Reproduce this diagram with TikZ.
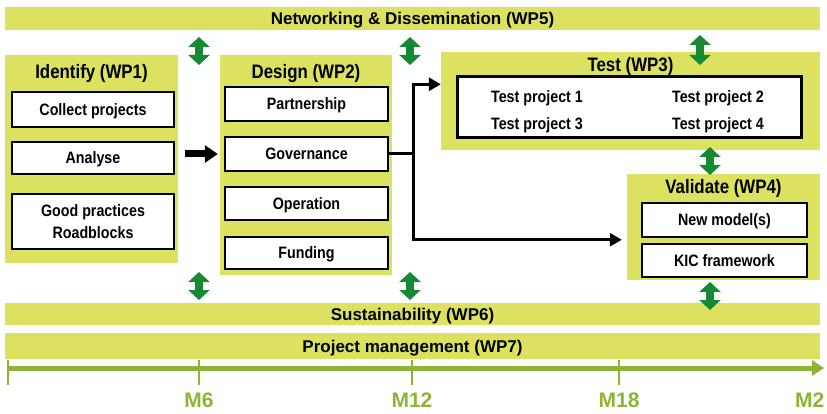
\documentclass[tikz,border=0pt]{standalone}
\usepackage{fontspec}
\setmainfont{Liberation Sans}
\newfontfamily\narrowsf[FakeStretch=0.865]{Liberation Sans}
\usetikzlibrary{arrows.meta,calc}
\definecolor{wpyellow}{RGB}{221,225,96}
\definecolor{wpgreen}{RGB}{22,138,50}
\definecolor{timegreen}{RGB}{141,180,52}
\tikzstyle{band} = [fill=wpyellow, minimum width=815pt, inner sep=0pt, text depth=0pt, font=\fontsize{17}{17}\selectfont\bfseries]
\tikzstyle{wp} = [fill=wpyellow, inner sep=0pt]
\tikzstyle{wptitle} = [inner sep=0pt, text depth=0pt, font=\narrowsf\fontsize{19.5}{20}\selectfont\bfseries]
\tikzstyle{task} = [draw=black, fill=white, line width=2.5pt, inner sep=0pt, text depth=0pt, align=center, font=\narrowsf\fontsize{16.5}{22}\selectfont\bfseries]
\tikzstyle{tp} = [inner sep=0pt, text depth=0pt, font=\narrowsf\fontsize{16.5}{20}\selectfont\bfseries]
\tikzstyle{updown} = [wpgreen, line width=8pt, {Triangle[width=21pt,length=10pt]}-{Triangle[width=21pt,length=10pt]}]
\tikzstyle{flow} = [line width=3pt, -{Triangle[width=13pt,length=12pt]}]
\tikzstyle{bigflow} = [line width=7pt, -{Triangle[width=17pt,length=13pt]}]

\begin{document}
\begin{tikzpicture}[x=1pt,y=-1pt]
	\useasboundingbox (0,0) rectangle (827,414);
	% bands
	\node[band, minimum height=23pt] (wp5) at (412.5,18.5) {Networking \& Dissemination (WP5)};
	\node[band, minimum height=22pt] (wp6) at (412.5,314) {Sustainability (WP6)};
	\node[band, minimum height=26pt] (wp7) at (412.5,346) {Project management (WP7)};
	% WP1
	\node[wp, minimum width=173pt, minimum height=208pt] (ident) at (91.5,159) {};
	\node[wptitle] (identt) at (91.5,71) {Identify (WP1)};
	\node[task, minimum width=162pt, minimum height=35pt] (coll) at (93,109.5) {Collect projects};
	\node[task, minimum width=162pt, minimum height=32pt] (ana) at (93,158) {Analyse};
	\node[task, minimum width=162pt, minimum height=55pt] (good) at (93,221.5) {Good practices\\Roadblocks};
	% WP2
	\node[wp, minimum width=172pt, minimum height=220pt] (design) at (306,165) {};
	\node[wptitle] (designt) at (306,71) {Design (WP2)};
	\node[task, minimum width=163pt, minimum height=34pt] (part) at (306.5,104) {Partnership};
	\node[task, minimum width=163pt, minimum height=34pt] (gov) at (306.5,154) {Governance};
	\node[task, minimum width=163pt, minimum height=33pt] (oper) at (306.5,203.5) {Operation};
	\node[task, minimum width=163pt, minimum height=32pt] (fund) at (306.5,253) {Funding};
	% WP3
	\node[wp, minimum width=379pt, minimum height=98pt] (test) at (630.5,101) {};
	\node[wptitle] (testt) at (630.5,64) {Test (WP3)};
	\node[task, line width=3pt, minimum width=344pt, minimum height=61pt] (tests) at (629,107.5) {};
	\node[tp] (tp1) at (537,96.5) {Test project 1};
	\node[tp] (tp2) at (718,96.5) {Test project 2};
	\node[tp] (tp3) at (537,124) {Test project 3};
	\node[tp] (tp4) at (718,124) {Test project 4};
	% WP4
	\node[wp, minimum width=193pt, minimum height=106pt] (val) at (723.5,227) {};
	\node[wptitle] (valt) at (723.5,186) {Validate (WP4)};
	\node[task, minimum width=165pt, minimum height=34pt] (model) at (724.5,220) {New model(s)};
	\node[task, minimum width=165pt, minimum height=33pt] (kic) at (724.5,260.5) {KIC framework};
	% flows
	\draw[bigflow, shorten <=7pt, shorten >=2pt] (ident.east |- gov) -- (design.west |- gov);
	\coordinate (split) at (413,154);
	\draw[flow] (gov.east) -- (split) |- ($(test.north west)!0.33!(test.south west)$);
	\draw[flow, shorten >=5pt] (split) |- ($(val.north west)!0.62!(val.south west)$);
	% links to WP5 / WP6
	\foreach \i/\x/\ya/\yb in {1/199/37/65, 2/410/37/65, 3/700/35/65, 4/710/147/175, 5/199/272/300, 6/410/272/300, 7/710/282/310}
	{
		\coordinate (g\i a) at (\x,\ya);
		\coordinate (g\i b) at (\x,\yb);
		\draw[updown] (g\i a) -- (g\i b);
	}
	% timeline
	\coordinate (t0) at (8,368);
	\coordinate (t1) at (824,368);
	\draw[timegreen, line width=5pt, -{Triangle[width=15pt,length=12pt]}] (t0) -- (t1);
	\draw[timegreen, line width=2pt] (8,360) -- (8,385);
	\foreach \x/\m in {199/M6, 412/M12, 619/M18}
	{
		\draw[timegreen, line width=2pt] (\x,360) -- (\x,385);
		\node[timegreen, inner sep=0pt, font=\fontsize{21}{21}\selectfont\bfseries] (m\x) at (\x,400) {\m};
	}
	\node[timegreen, inner sep=0pt, anchor=west, font=\fontsize{21}{21}\selectfont\bfseries] (mend) at (795,400) {M2};
\end{tikzpicture}
\end{document}
